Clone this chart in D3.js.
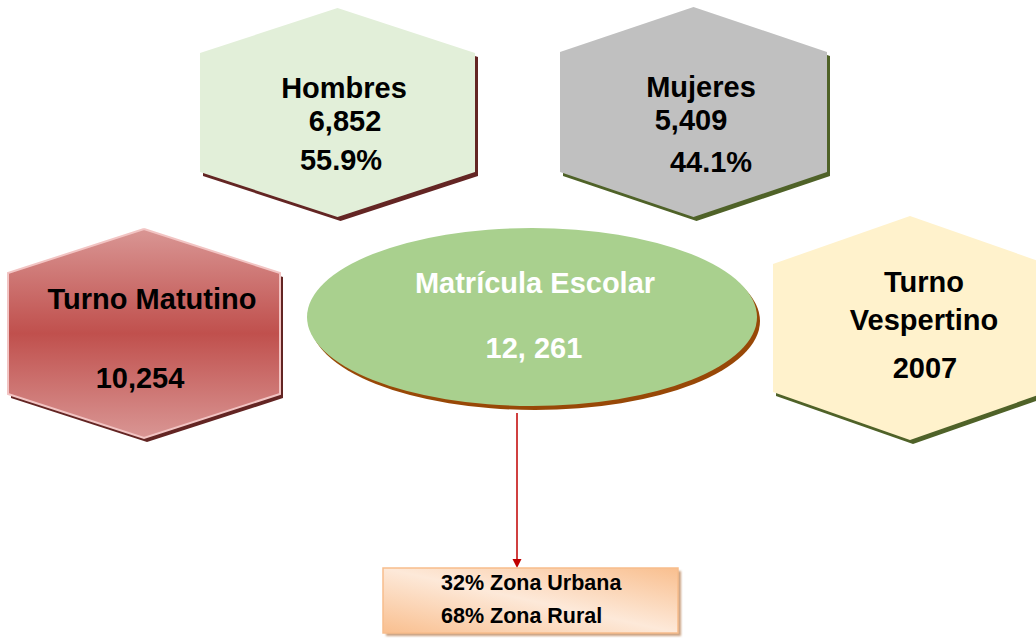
<!DOCTYPE html>
<html>
<head>
<meta charset="utf-8">
<script src="https://cdn.jsdelivr.net/npm/d3@7"></script>
<style>
  html, body { margin: 0; padding: 0; background: #ffffff; }
  svg { display: block; }
  text { font-family: "Liberation Sans", Arial, sans-serif; font-weight: bold; }
</style>
</head>
<body>
<svg id="chart" width="1036" height="638"></svg>
<script>
// ---- data ----
const categories = ["Hombres", "Mujeres", "Turno Matutino", "Turno Vespertino"];
const values = ["6,852", "5,409", "10,254", "2007"];
const percents = ["55.9%", "44.1%", "", ""];
const totalLabel = "Matrícula Escolar";
const totalValue = "12, 261";
const zoneLabels = ["32% Zona Urbana", "68% Zona Rural"];

// ---- layout (positions / styles) ----
const hexLayout = [
  { x0: 200, x1: 475, y0: 8,   y1: 217, d: 45, fill: "#e2efd9", shadow: "#632523", stroke: "none",
    lines: [[344, 98], [345, 131], [341, 170]] },
  { x0: 560, x1: 827, y0: 7,   y1: 217, d: 45, fill: "#c0c0c0", shadow: "#4f6228", stroke: "none",
    lines: [[701, 97], [691, 130], [711, 172]] },
  { x0: 8,   x1: 280, y0: 229, y1: 438, d: 44, fill: "url(#gradRed)", shadow: "#632523", stroke: "#f2c4c3",
    lines: [[152, 309], [140, 388]] },
  { x0: 773, x1: 1047, y0: 216, y1: 440, d: 48, fill: "#fff2cc", shadow: "#4f6228", stroke: "none",
    lines: [[924, 292], [924, 330], [925, 378]] }
];
const ellipseLayout = { cx: 532, cy: 317, rx: 225, ry: 89, fill: "#a9d08e", shadow: "#984807",
  lines: [[535, 293], [534, 358]] };
const boxLayout = { x: 383, y: 568, w: 295, h: 65, textX: 441, lines: [590, 623] };
const arrowLayout = { x: 517, y0: 413, y1: 568 };
const labelSize = 29;
const zoneSize = 21.5;

const svg = d3.select("#chart");
const defs = svg.append("defs");

const gRed = defs.append("linearGradient").attr("id", "gradRed")
  .attr("x1", 0).attr("y1", 0).attr("x2", 0).attr("y2", 1);
gRed.append("stop").attr("offset", 0).attr("stop-color", "#d99694");
gRed.append("stop").attr("offset", 0.5).attr("stop-color", "#c0504d");
gRed.append("stop").attr("offset", 1).attr("stop-color", "#d99694");

const gBox = defs.append("linearGradient").attr("id", "gradBox")
  .attr("x1", 0).attr("y1", 1).attr("x2", 1).attr("y2", 0);
gBox.append("stop").attr("offset", 0).attr("stop-color", "#f9bf8f");
gBox.append("stop").attr("offset", 0.5).attr("stop-color", "#fde9d9");
gBox.append("stop").attr("offset", 1).attr("stop-color", "#f9bf8f");

const blur = defs.append("filter").attr("id", "soft")
  .attr("x", "-10%").attr("y", "-10%").attr("width", "120%").attr("height", "140%");
blur.append("feGaussianBlur").attr("stdDeviation", 1);

// hexagon geometry through d3.line
const line = d3.line();
function hexPoints(h) {
  const cx = (h.x0 + h.x1) / 2;
  return [[cx, h.y0], [h.x1, h.y0 + h.d], [h.x1, h.y1 - h.d], [cx, h.y1],
          [h.x0, h.y1 - h.d], [h.x0, h.y0 + h.d], [cx, h.y0]];
}

// text content per node from data arrays
function nodeLines(i) {
  if (i === 3) {
    const parts = categories[i].split(" ");
    return [parts[0], parts[1], values[i]];
  }
  const arr = [categories[i], values[i]];
  if (percents[i]) arr.push(percents[i]);
  return arr;
}

// arrow (drawn first so shapes overlap its ends)
svg.append("line")
  .attr("x1", arrowLayout.x).attr("y1", arrowLayout.y0)
  .attr("x2", arrowLayout.x).attr("y2", arrowLayout.y1 - 8)
  .attr("stroke", "#c00000").attr("stroke-width", 1.5);
svg.append("path")
  .attr("d", line([[arrowLayout.x - 4.5, arrowLayout.y1 - 9], [arrowLayout.x + 4.5, arrowLayout.y1 - 9], [arrowLayout.x, arrowLayout.y1]]) + "Z")
  .attr("fill", "#c00000");

const hexG = svg.selectAll("g.hex").data(hexLayout).join("g").attr("class", "hex");
hexG.append("path")
  .attr("d", d => line(hexPoints(d)))
  .attr("transform", "translate(3,4)")
  .attr("fill", d => d.shadow);
hexG.append("path")
  .attr("d", d => line(hexPoints(d)))
  .attr("fill", d => d.fill)
  .attr("stroke", d => d.stroke)
  .attr("stroke-width", 2)
  .attr("stroke-linejoin", "miter");
hexG.each(function(d, i) {
  const labels = nodeLines(i);
  d3.select(this).selectAll("text").data(d.lines).join("text")
    .attr("x", p => p[0]).attr("y", p => p[1])
    .attr("text-anchor", "middle")
    .attr("font-size", labelSize)
    .attr("fill", "#000")
    .text((p, j) => labels[j]);
});

// central ellipse
const e = ellipseLayout;
svg.append("ellipse").attr("cx", e.cx + 3).attr("cy", e.cy + 4).attr("rx", e.rx).attr("ry", e.ry)
  .attr("fill", e.shadow);
svg.append("ellipse").attr("cx", e.cx).attr("cy", e.cy).attr("rx", e.rx).attr("ry", e.ry)
  .attr("fill", e.fill);
svg.selectAll("text.center").data([totalLabel, totalValue]).join("text")
  .attr("class", "center")
  .attr("x", (t, j) => e.lines[j][0]).attr("y", (t, j) => e.lines[j][1])
  .attr("text-anchor", "middle").attr("font-size", labelSize).attr("fill", "#ffffff")
  .text(t => t);

// bottom box
const b = boxLayout;
svg.append("rect").attr("x", b.x + 3).attr("y", b.y + 3).attr("width", b.w).attr("height", b.h)
  .attr("fill", "#c9a080").attr("filter", "url(#soft)");
svg.append("rect").attr("x", b.x).attr("y", b.y).attr("width", b.w).attr("height", b.h)
  .attr("fill", "url(#gradBox)").attr("stroke", "#f7bd8c").attr("stroke-width", 1.5);
svg.selectAll("text.zone").data(zoneLabels).join("text")
  .attr("class", "zone")
  .attr("x", b.textX).attr("y", (t, j) => b.lines[j])
  .attr("font-size", zoneSize).attr("fill", "#000")
  .text(t => t);
</script>
</body>
</html>
